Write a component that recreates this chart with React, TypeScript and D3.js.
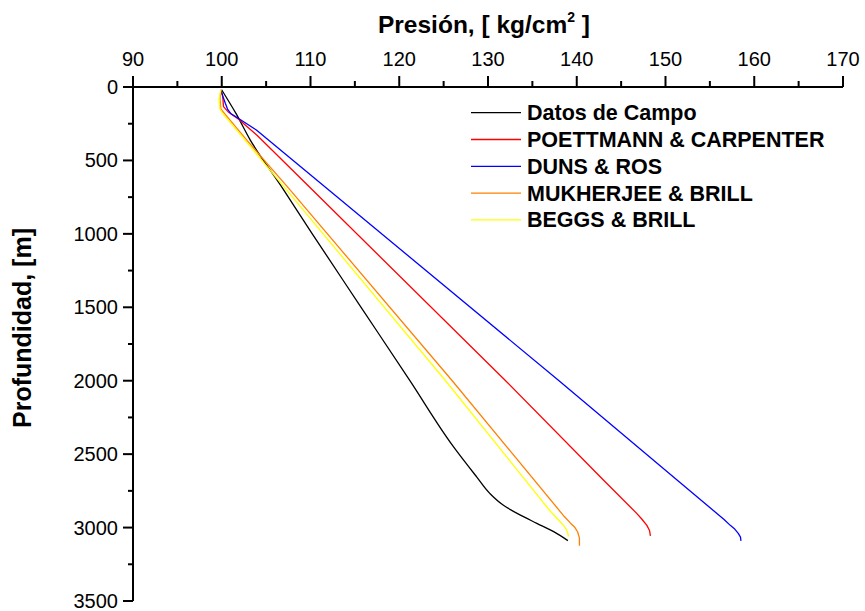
import React from 'react';
import * as d3 from 'd3';

// Presión [kg/cm2] vs profundidad [m]
const fieldData: [number, number][] = [
  [100.0, 20], [101.6, 180], [103.2, 360], [106.9, 694], [110.2, 1000], [115.7, 1500],
  [121.2, 2000], [126.1, 2449], [128.7, 2653], [130.2, 2767],
  [131.7, 2846], [133.6, 2914], [135.5, 2971], [137.4, 3028], [139.0, 3089],
];

const poettmannData: [number, number][] = [
  [99.9, 20], [100.1, 60], [100.2, 134], [100.7, 168], [101.9, 220], [104.0, 330],
  [110.2, 700], [131.9, 1995], [143.0, 2676], [146.7, 2900], [147.3, 2940],
  [147.9, 2985], [148.2, 3020], [148.3, 3057],
];

const dunsRosData: [number, number][] = [
  [99.9, 20], [100.1, 60], [100.4, 111], [100.65, 150], [101.0, 180], [101.9, 215],
  [103.9, 293], [137.9, 1995], [151.3, 2676], [156.6, 2945], [157.3, 2985], [157.8, 3010],
  [158.2, 3040], [158.45, 3065], [158.5, 3091],
];

const mukherjeeData: [number, number][] = [
  [99.9, 20], [99.8, 80], [99.9, 150], [100.3, 180], [102.8, 360], [107.6, 694],
  [125.9, 1995], [138.6, 2925], [139.3, 2970], [139.8, 3000], [140.1, 3030], [140.3, 3070],
  [140.3, 3123],
];

const beggsData: [number, number][] = [
  [99.9, 20], [99.7, 80], [99.8, 150], [100.1, 180], [102.6, 360], [107.2, 694],
  [125.15, 1995], [136.9, 2880], [137.9, 2945], [138.5, 2985], [138.85, 3015],
  [139.0, 3040], [139.05, 3062],
];

const seriesNames = [
  'Datos de Campo',
  'POETTMANN & CARPENTER',
  'DUNS & ROS',
  'MUKHERJEE & BRILL',
  'BEGGS & BRILL',
];
const seriesColors = ['#000000', '#ff0000', '#0000ff', '#ff8000', '#ffff00'];
const seriesData = [fieldData, poettmannData, dunsRosData, mukherjeeData, beggsData];

const pressureTicks = [90, 100, 110, 120, 130, 140, 150, 160, 170];
const depthTicks = [0, 500, 1000, 1500, 2000, 2500, 3000, 3500];

const FONT = '"Liberation Sans", Arial, Helvetica, sans-serif';

export default function App() {
  const width = 865;
  const height = 611;

  const x = d3.scaleLinear().domain([90, 170]).range([133, 843]);
  const y = d3.scaleLinear().domain([0, 3500]).range([87, 601]);

  // field data is dense and smooth, the model curves are mostly straight
  const smoothLine = d3
    .line<[number, number]>()
    .x((d) => x(d[0]))
    .y((d) => y(d[1]))
    .curve(d3.curveMonotoneY);
  const straightLine = d3
    .line<[number, number]>()
    .x((d) => x(d[0]))
    .y((d) => y(d[1]))
    .curve(d3.curveLinear);

  const minorX = d3.range(95, 170, 10);
  const minorY = d3.range(250, 3500, 500);

  const plotTop = y(0);
  const plotLeft = x(90);

  return (
    <svg
      width={width}
      height={height}
      style={{ position: 'absolute', left: 0, top: 0, background: '#fff' }}
      fontFamily={FONT}
    >
      <rect x={0} y={0} width={width} height={height} fill="#fff" />

      {/* series */}
      {seriesData.map((data, i) => (
        <path
          key={seriesNames[i]}
          d={(i === 0 ? smoothLine(data) : straightLine(data)) || ''}
          fill="none"
          stroke={seriesColors[i]}
          strokeWidth={1.3}
          strokeLinejoin="round"
        />
      ))}

      {/* top axis */}
      <line x1={plotLeft} x2={x(170)} y1={plotTop} y2={plotTop} stroke="#000" strokeWidth={2} />
      {pressureTicks.map((t) => (
        <g key={'xt' + t}>
          <line x1={x(t)} x2={x(t)} y1={plotTop} y2={plotTop - 11} stroke="#000" strokeWidth={2} />
          <text x={x(t)} y={66} textAnchor="middle" fontSize={20}>
            {t}
          </text>
        </g>
      ))}
      {minorX.map((t) => (
        <line key={'xm' + t} x1={x(t)} x2={x(t)} y1={plotTop} y2={plotTop - 6} stroke="#000" strokeWidth={2} />
      ))}

      {/* left axis */}
      <line x1={plotLeft} x2={plotLeft} y1={plotTop} y2={y(3500)} stroke="#000" strokeWidth={2} />
      {depthTicks.map((t) => (
        <g key={'yt' + t}>
          <line x1={plotLeft - 10} x2={plotLeft} y1={y(t)} y2={y(t)} stroke="#000" strokeWidth={2} />
          <text x={118} y={y(t) + 7} textAnchor="end" fontSize={20}>
            {t}
          </text>
        </g>
      ))}
      {minorY.map((t) => (
        <line key={'ym' + t} x1={plotLeft - 5} x2={plotLeft} y1={y(t)} y2={y(t)} stroke="#000" strokeWidth={2} />
      ))}

      {/* titles */}
      <text x={484} y={33} textAnchor="middle" fontSize={24.5} fontWeight="bold">
        Presión, [ kg/cm
        <tspan fontSize={14} dy={-11}>2</tspan>
        <tspan dy={11}> ]</tspan>
      </text>
      <text
        transform={`translate(31, 328) rotate(-90)`}
        textAnchor="middle"
        fontSize={25}
        fontWeight="bold"
      >
        Profundidad, [m]
      </text>

      {/* legend */}
      {seriesNames.map((name, i) => {
        const ly = 112.7 + i * 26.8;
        return (
          <g key={'lg' + name}>
            <line x1={471} x2={521} y1={ly} y2={ly} stroke={seriesColors[i]} strokeWidth={1.3} />
            <text x={527} y={ly + 7.5} fontSize={21.5} fontWeight="bold">
              {name}
            </text>
          </g>
        );
      })}
    </svg>
  );
}
